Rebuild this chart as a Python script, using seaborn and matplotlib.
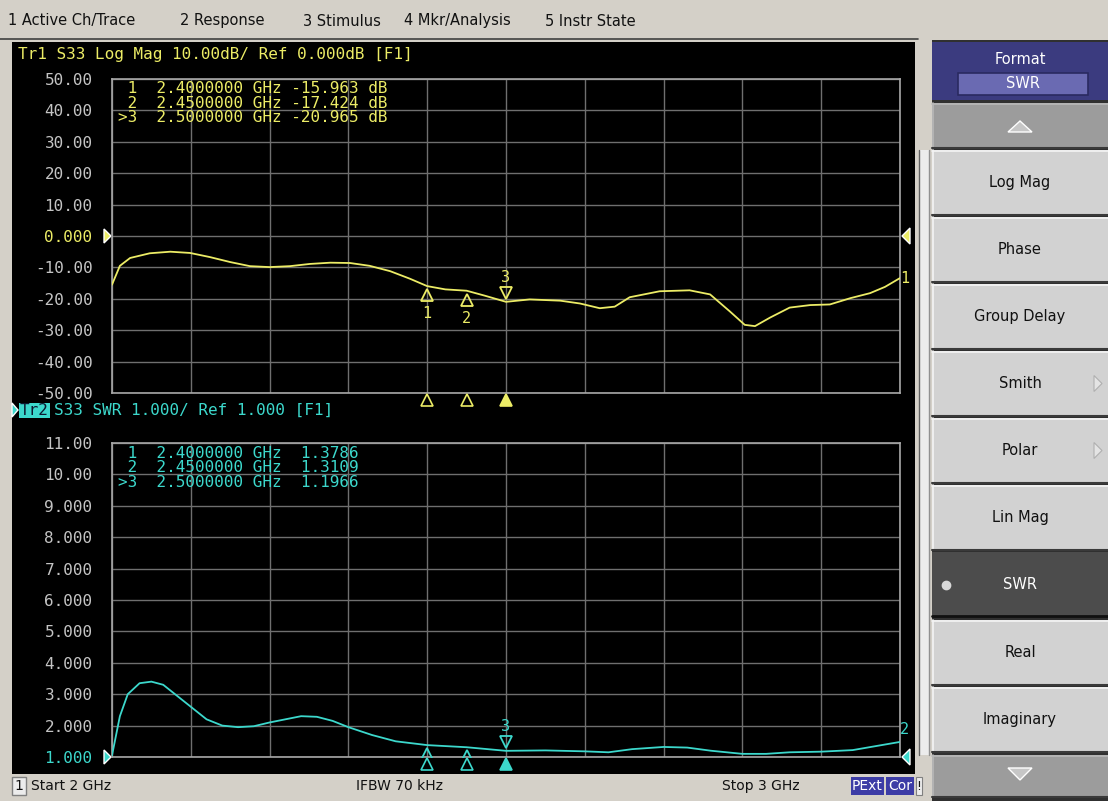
import numpy as np
import pandas as pd
import matplotlib
matplotlib.use("Agg")
import matplotlib.pyplot as plt
import matplotlib.transforms as mtrans
from matplotlib.patches import Rectangle, Polygon
import seaborn as sns

# --- data ---
freq_db = [2.000, 2.010, 2.023, 2.048, 2.074, 2.099, 2.124, 2.150, 2.175, 2.200,
           2.226, 2.251, 2.277, 2.302, 2.327, 2.353, 2.378, 2.400, 2.423, 2.450,
           2.473, 2.500, 2.530, 2.569, 2.594, 2.619, 2.638, 2.657, 2.695, 2.733,
           2.759, 2.784, 2.803, 2.816, 2.835, 2.860, 2.886, 2.911, 2.937, 2.962,
           2.981, 3.000]
s33_db = [-15.5, -9.5, -7.0, -5.5, -5.0, -5.4, -6.7, -8.3, -9.6, -9.9,
          -9.6, -8.9, -8.5, -8.6, -9.5, -11.2, -13.6, -15.963, -17.0, -17.424,
          -19.0, -20.965, -20.2, -20.6, -21.5, -23.0, -22.5, -19.5, -17.6, -17.3,
          -18.6, -24.0, -28.3, -28.7, -26.0, -22.8, -22.0, -21.8, -19.8, -18.2,
          -16.2, -13.4]

freq_swr = [2.000, 2.010, 2.020, 2.035, 2.050, 2.065, 2.080, 2.100, 2.120, 2.140,
            2.160, 2.180, 2.200, 2.220, 2.240, 2.260, 2.280, 2.300, 2.330, 2.360,
            2.400, 2.450, 2.500, 2.550, 2.600, 2.630, 2.660, 2.700, 2.730, 2.760,
            2.800, 2.830, 2.860, 2.900, 2.940, 2.970, 3.000]
s33_swr = [1.05, 2.3, 3.0, 3.35, 3.4, 3.3, 3.0, 2.6, 2.2, 2.0,
           1.95, 1.98, 2.1, 2.2, 2.3, 2.28, 2.15, 1.95, 1.7, 1.5,
           1.3786, 1.3109, 1.1966, 1.21, 1.18, 1.15, 1.25, 1.32, 1.30, 1.20,
           1.10, 1.10, 1.15, 1.17, 1.22, 1.35, 1.48]

marker_freq = [2.40, 2.45, 2.50]
marker_db = [-15.963, -17.424, -20.965]
marker_swr = [1.3786, 1.3109, 1.1966]

db_ticks = [50, 40, 30, 20, 10, 0, -10, -20, -30, -40, -50]
db_labels = ["50.00", "40.00", "30.00", "20.00", "10.00", "0.000",
             "-10.00", "-20.00", "-30.00", "-40.00", "-50.00"]
swr_ticks = [11, 10, 9, 8, 7, 6, 5, 4, 3, 2, 1]
swr_labels = ["11.00", "10.00", "9.000", "8.000", "7.000", "6.000",
              "5.000", "4.000", "3.000", "2.000", "1.000"]

menu_items = ["1 Active Ch/Trace", "2 Response", "3 Stimulus", "4 Mkr/Analysis", "5 Instr State"]
menu_x = [8, 180, 303, 404, 545]
buttons = ["Log Mag", "Phase", "Group Delay", "Smith", "Polar", "Lin Mag", "SWR", "Real", "Imaginary"]

YEL = "#ecec66"
CYN = "#3cd8cc"
UI = "#d4d0c8"
GRID = "#6f6f6f"
LBL = "#c4c4c4"
MONO = "DejaVu Sans Mono"
SANS = "DejaVu Sans"

W, H = 1108, 801
sns.set_style("dark")
plt.rcParams["font.family"] = ["DejaVu Sans"]
fig = plt.figure(figsize=(W / 100, H / 100), dpi=100)
fig.patch.set_facecolor(UI)

# background axes in pixel coordinates
bg = fig.add_axes([0, 0, 1, 1])
bg.set_xlim(0, W)
bg.set_ylim(H, 0)
bg.axis("off")


def rect(x0, y0, x1, y1, fc, ec="none", lw=0, z=1):
    bg.add_patch(Rectangle((x0, y0), x1 - x0, y1 - y0, facecolor=fc, edgecolor=ec, lw=lw, zorder=z))


def bevel(x0, y0, x1, y1, fc, light="#f4f4f4", dark="#3a3a3a"):
    rect(x0, y0, x1, y1, fc)
    bg.plot([x0, x1], [y0 + 0.5, y0 + 0.5], color=light, lw=1.2, zorder=2)
    bg.plot([x0 + 0.5, x0 + 0.5], [y0, y1], color=light, lw=1.2, zorder=2)
    bg.plot([x0, x1], [y1 - 0.5, y1 - 0.5], color=dark, lw=1.5, zorder=2)


# menu bar
rect(0, 0, W, 40, UI)
bg.plot([0, 918], [39, 39], color="#404040", lw=1.2)
for lab, x in zip(menu_items, menu_x):
    bg.text(x, 21, lab, fontsize=10.5, family=SANS, color="#111111", va="center", ha="left")

# screen
rect(12, 42, 915, 774, "black")

# separator strip
rect(915, 40, 932, H, UI)
rect(919, 150, 929, 755, "#ececec")
bg.plot([919, 919], [150, 755], color="#606060", lw=1)
bg.plot([929, 929], [150, 755], color="#909090", lw=1)

# status bar
rect(0, 774, 932, H, UI)
rect(12, 777, 26, 795, "#ececec", ec="#808080", lw=1)
bg.text(19, 786, "1", fontsize=10, family=SANS, color="#111111", ha="center", va="center")
bg.text(31, 786, "Start 2 GHz", fontsize=10, family=SANS, color="#111111", va="center")
bg.text(400, 786, "IFBW 70 kHz", fontsize=10, family=SANS, color="#111111", va="center", ha="center")
bg.text(800, 786, "Stop 3 GHz", fontsize=10, family=SANS, color="#111111", va="center", ha="right")
for x0, x1, lab in [(851, 884, "PExt"), (886, 914, "Cor")]:
    rect(x0, 777, x1, 795, "#3c3ca6")
    bg.text((x0 + x1) / 2, 786, lab, fontsize=10, family=SANS, color="white", ha="center", va="center")
rect(916, 777, 922, 795, "#ececec", ec="#808080", lw=0.8)
bg.text(919, 786, "!", fontsize=9, family=SANS, color="#111111", ha="center", va="center")

# right softkey panel
rect(932, 40, W, H, "#303030")
rect(932, 42, W, 100, "#3b3b7f")
bg.text(1020, 60, "Format", fontsize=10.5, family=SANS, color="white", ha="center", va="center")
rect(958, 73, 1088, 95, "#6a6ab2", ec="#2a2a60", lw=1.2)
bg.text(1023, 84, "SWR", fontsize=10.5, family=SANS, color="white", ha="center", va="center")

bevel(932, 103, W, 148, "#9c9c9c", light="#b8b8b8")
bg.add_patch(Polygon([[1008, 132], [1032, 132], [1020, 121]], closed=True, fc="#c6c6c6", zorder=3))

btn_y0 = [150, 217, 284, 351, 418, 485, 552, 620, 687]
for lab, y0 in zip(buttons, btn_y0):
    y1 = y0 + 65
    if lab == "SWR":
        rect(932, y0, W, y1, "#4c4c4c")
        bg.plot([932, W], [y1 - 1, y1 - 1], color="#101010", lw=2)
        bg.plot(946, (y0 + y1) / 2, "o", color="#d8d8d8", ms=6)
        bg.text(1020, (y0 + y1) / 2, lab, fontsize=10.5, family=SANS, color="white", ha="center", va="center")
    else:
        bevel(932, y0, W, y1, "#d2d2d2")
        bg.text(1020, (y0 + y1) / 2, lab, fontsize=10.5, family=SANS, color="#111111", ha="center", va="center")
    if lab in ("Smith", "Polar"):
        yc = (y0 + y1) / 2
        bg.add_patch(Polygon([[1094, yc - 8], [1094, yc + 8], [1102, yc]], closed=True,
                             fc="#e4e4e4", ec="#b0b0b0", lw=0.8, zorder=3))

bevel(932, 755, W, 797, "#9c9c9c", light="#b8b8b8")
bg.add_patch(Polygon([[1008, 768], [1032, 768], [1020, 780]], closed=True, fc="#c6c6c6", zorder=3))

# trace headers
bg.text(18, 55, "Tr1 S33 Log Mag 10.00dB/ Ref 0.000dB [F1]", fontsize=11.5, family=MONO,
        color=YEL, va="center")
bg.add_patch(Polygon([[12, 403], [12, 417], [18, 410]], closed=True, fc=CYN, zorder=3))
rect(19, 403, 50, 418, CYN, z=2)
bg.text(20, 410.5, "Tr2", fontsize=11.5, family=MONO, color="#0c1830", va="center", zorder=4)
bg.text(54, 410.5, "S33 SWR 1.000/ Ref 1.000 [F1]", fontsize=11.5, family=MONO,
        color=CYN, va="center")

# reference-level triangles
for yp, col in [(236, YEL), (757, CYN)]:
    bg.add_patch(Polygon([[104, yp - 7], [104, yp + 7], [111, yp]], closed=True, fc=col, zorder=3))
    bg.add_patch(Polygon([[910, yp - 8], [910, yp + 8], [902, yp]], closed=True, fc=col, zorder=3))


def setup(ax, ylim, ticks, labels, refcol, refidx):
    ax.set_facecolor("black")
    ax.set_xlim(2.0, 3.0)
    ax.set_ylim(*ylim)
    ax.set_xticks(np.linspace(2.0, 3.0, 11))
    ax.set_yticks(ticks)
    ax.set_yticklabels(labels)
    ax.set_xticklabels([])
    ax.tick_params(length=0, pad=14, labelsize=11.5, labelcolor=LBL)
    for t in ax.get_yticklabels():
        t.set_fontfamily(MONO)
    ax.get_yticklabels()[refidx].set_color(refcol)
    ax.grid(True, color=GRID, lw=1)
    for s in ax.spines.values():
        s.set_color("#a8a8a8")
        s.set_linewidth(1.2)
    ax.set_xlabel("")
    ax.set_ylabel("")


ax1 = fig.add_axes([112 / W, 1 - 393 / H, 788 / W, 314 / H])
ax2 = fig.add_axes([112 / W, 1 - 757 / H, 788 / W, 314 / H])

df_db = pd.DataFrame({"Frequency": freq_db, "dB": s33_db})
df_swr = pd.DataFrame({"Frequency": freq_swr, "SWR": s33_swr})
sns.lineplot(data=df_db, x="Frequency", y="dB", ax=ax1, color=YEL, lw=1.3, zorder=5)
sns.lineplot(data=df_swr, x="Frequency", y="SWR", ax=ax2, color=CYN, lw=1.3, zorder=5)

setup(ax1, (-50, 50), db_ticks, db_labels, YEL, 5)
setup(ax2, (1, 11), swr_ticks, swr_labels, CYN, 10)

# marker readouts
rows = [" 1", " 2", ">3"]
for ax, vals, col, fmt, ytop in [(ax1, marker_db, YEL, "{:.3f} dB", 0.971),
                                 (ax2, marker_swr, CYN, " {:.4f}", 0.968)]:
    for i, (r, f, v) in enumerate(zip(rows, marker_freq, vals)):
        txt = f"{r}  {f:.7f} GHz {fmt.format(v)}"
        ax.text(0.008, ytop - i * 0.0475, txt, transform=ax.transAxes, fontsize=11.5,
                family=MONO, color=col, va="center", ha="left", zorder=6)


def markers(ax, vals, col, down_num_pt):
    below = mtrans.offset_copy(ax.transData, fig=fig, y=-9, units="dots")
    above = mtrans.offset_copy(ax.transData, fig=fig, y=9, units="dots")
    for i, (f, v) in enumerate(zip(marker_freq, vals)):
        if i < 2:
            ax.plot(f, v, marker="^", ms=9, mfc="none", mec=col, mew=1.3, transform=below, zorder=7)
            t2 = mtrans.offset_copy(ax.transData, fig=fig, y=-down_num_pt, units="dots")
            ax.text(f, v, str(i + 1), transform=t2, fontsize=11, family=MONO, color=col,
                    ha="center", va="top", zorder=7, clip_on=True)
        else:
            ax.plot(f, v, marker="v", ms=9, mfc="none", mec=col, mew=1.3, transform=above, zorder=7)
            t2 = mtrans.offset_copy(ax.transData, fig=fig, y=17, units="dots")
            ax.text(f, v, "3", transform=t2, fontsize=11, family=MONO, color=col,
                    ha="center", va="bottom", zorder=7)
    # stimulus markers below the grid
    ybase = ax.get_ylim()[0]
    under = mtrans.offset_copy(ax.transData, fig=fig, y=-7, units="dots")
    for i, f in enumerate(marker_freq):
        ax.plot(f, ybase, marker="^", ms=9, mfc=col if i == 2 else "none", mec=col, mew=1.2,
                transform=under, clip_on=False, zorder=7)


markers(ax1, marker_db, YEL, 20)
markers(ax2, marker_swr, CYN, 20)

# trace end labels
ax1.text(3.0, s33_db[-1], "1", fontsize=11, family=MONO, color=YEL, ha="left", va="center", clip_on=False)
ax2.text(3.0, s33_swr[-1] + 0.4, "2", fontsize=11, family=MONO, color=CYN, ha="left", va="center", clip_on=False)

fig.savefig("out.png", dpi=100, facecolor=fig.get_facecolor())
